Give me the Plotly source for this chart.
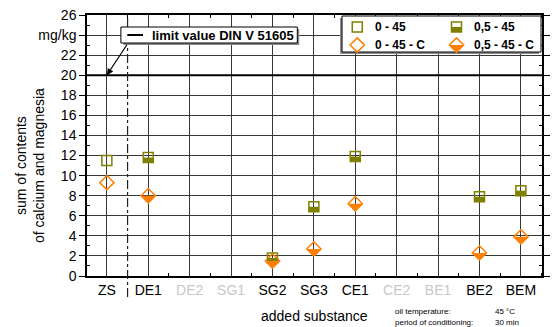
import plotly.graph_objects as go

# ---- data -------------------------------------------------------------
categories = ["ZS", "DE1", "DE2", "SG1", "SG2", "SG3", "CE1", "CE2", "BE1", "BE2", "BEM"]
untested = ["DE2", "SG1", "CE2", "BE1"]

s_0_45_cats = ["ZS"]
s_0_45_vals = [11.5]

s_05_45_cats = ["DE1", "SG2", "SG3", "CE1", "BE2", "BEM"]
s_05_45_vals = [11.8, 1.8, 6.9, 11.9, 7.9, 8.5]

s_0_45_c_cats = ["ZS"]
s_0_45_c_vals = [9.3]

s_05_45_c_cats = ["DE1", "SG2", "SG3", "CE1", "BE2", "BEM"]
s_05_45_c_vals = [8.0, 1.5, 2.7, 7.2, 2.3, 3.9]

limit_value = 20
y_ticks = list(range(0, 27, 2))
y_ticktext = [str(v) if v != 24 else "mg/kg" for v in y_ticks]

# ---- styling ----------------------------------------------------------
OLIVE = "#808000"
ORANGE = "#ff7f00"
GRID = "#383838"
FONT = "Liberation Sans, Arial, sans-serif"
W, H = 552, 327
ML, MR, MT, MB = 87, 2, 15, 51
PW, PH = W - ML - MR, H - MT - MB

SQ = 10          # square marker size (px)
DM = 11          # diamond marker size (px)
RS = SQ / 2
RD = DM / 2 * 1.3


def px(x):
    return (x - ML) / PW


def py(y):
    return (H - MB - y) / PH


idx = {c: i for i, c in enumerate(categories)}

fig = go.Figure()

fig.add_trace(go.Scatter(
    x=[idx[c] for c in s_0_45_cats], y=s_0_45_vals, mode="markers", name="0 - 45",
    marker=dict(symbol="square-open", size=SQ, color=OLIVE, line=dict(width=1.5, color=OLIVE)),
    showlegend=False))
fig.add_trace(go.Scatter(
    x=[idx[c] for c in s_05_45_cats], y=s_05_45_vals, mode="markers", name="0,5 - 45",
    marker=dict(symbol="square-open", size=SQ, color=OLIVE, line=dict(width=1.5, color=OLIVE)),
    showlegend=False))
fig.add_trace(go.Scatter(
    x=[idx[c] for c in s_0_45_c_cats], y=s_0_45_c_vals, mode="markers", name="0 - 45 - C",
    marker=dict(symbol="diamond-open", size=DM, color=ORANGE, line=dict(width=1.5, color=ORANGE)),
    showlegend=False))
fig.add_trace(go.Scatter(
    x=[idx[c] for c in s_05_45_c_cats], y=s_05_45_c_vals, mode="markers", name="0,5 - 45 - C",
    marker=dict(symbol="diamond-open", size=DM, color=ORANGE, line=dict(width=1.5, color=ORANGE)),
    showlegend=False))

shapes = []

# lower-half fills for the half-filled symbols (pixel-sized, anchored on data)
half_square = f"M {-RS},0 L {RS},0 L {RS},{-RS} L {-RS},{-RS} Z"
half_diamond = f"M {-RD},0 L {RD},0 L 0,{-RD} Z"
for c, v in zip(s_05_45_cats, s_05_45_vals):
    shapes.append(dict(type="path", xref="x", yref="y", xsizemode="pixel", ysizemode="pixel",
                       xanchor=idx[c], yanchor=v, path=half_square,
                       fillcolor=OLIVE, line=dict(width=0), layer="above"))
for c, v in zip(s_05_45_c_cats, s_05_45_c_vals):
    shapes.append(dict(type="path", xref="x", yref="y", xsizemode="pixel", ysizemode="pixel",
                       xanchor=idx[c], yanchor=v, path=half_diamond,
                       fillcolor=ORANGE, line=dict(width=0), layer="above"))

# limit line
shapes.append(dict(type="line", xref="paper", yref="y", x0=0, x1=1, y0=limit_value, y1=limit_value,
                   line=dict(color="black", width=2), layer="above"))

# separator between reference and additives
shapes.append(dict(type="line", xref="x", yref="paper", x0=0.5, x1=0.5, y0=py(297), y1=1,
                   line=dict(color="#202020", width=1.2, dash="dashdot"), layer="above"))

# box for the limit label
shapes.append(dict(type="rect", xref="paper", yref="paper",
                   x0=px(124), x1=px(303), y0=py(45), y1=py(29),
                   fillcolor="#8c8c8c", line=dict(width=0), layer="above"))
shapes.append(dict(type="rect", xref="paper", yref="paper",
                   x0=px(121.5), x1=px(301), y0=py(43), y1=py(27),
                   fillcolor="white", line=dict(color="black", width=1), layer="above"))
shapes.append(dict(type="line", xref="paper", yref="paper",
                   x0=px(128), x1=px(144), y0=py(35), y1=py(35),
                   line=dict(color="black", width=2), layer="above"))

# legend box
shapes.append(dict(type="rect", xref="paper", yref="paper",
                   x0=px(344.5), x1=px(547), y0=py(54), y1=py(18),
                   fillcolor="#8c8c8c", line=dict(width=0), layer="above"))
shapes.append(dict(type="rect", xref="paper", yref="paper",
                   x0=px(346.5), x1=px(549), y0=py(52), y1=py(16),
                   fillcolor="white", line=dict(color="black", width=1), layer="above"))

full_square = f"M {-RS},{-RS} L {RS},{-RS} L {RS},{RS} L {-RS},{RS} Z"
full_diamond = f"M {-RD},0 L 0,{RD} L {RD},0 L 0,{-RD} Z"
legend_items = [
    ("0 - 45", 362, 27, full_square, OLIVE, None),
    ("0,5 - 45", 463, 27, full_square, OLIVE, half_square),
    ("0 - 45 - C", 362, 45, full_diamond, ORANGE, None),
    ("0,5 - 45 - C", 463, 45, full_diamond, ORANGE, half_diamond),
]
annotations = []
for label, lx, ly, outline, col, half in legend_items:
    if half:
        shapes.append(dict(type="path", xref="paper", yref="paper", xsizemode="pixel",
                           ysizemode="pixel", xanchor=px(lx), yanchor=py(ly), path=half,
                           fillcolor=col, line=dict(width=0), layer="above"))
    shapes.append(dict(type="path", xref="paper", yref="paper", xsizemode="pixel",
                       ysizemode="pixel", xanchor=px(lx), yanchor=py(ly), path=outline,
                       fillcolor="rgba(0,0,0,0)", line=dict(color=col, width=1.5), layer="above"))
    annotations.append(dict(text=f"<b>{label}</b>", xref="paper", yref="paper",
                            x=px(lx + 16), y=py(ly), xanchor="left", yanchor="middle",
                            showarrow=False, font=dict(size=12, color="black", family=FONT)))

annotations += [
    dict(text="<b>limit value DIN V 51605</b>", xref="paper", yref="paper",
         x=px(151), y=py(35), xanchor="left", yanchor="middle", showarrow=False,
         font=dict(size=13, color="black", family=FONT)),
    dict(text="", x=idx["ZS"], y=limit_value, xref="x", yref="y",
         ax=21, ay=-32, showarrow=True, arrowhead=2, arrowsize=1.1, arrowwidth=1.2,
         arrowcolor="black", standoff=0),
    dict(text="sum of contents<br>of calcium and magnesia", xref="paper", yref="paper",
         x=px(29), y=py(166), xanchor="center", yanchor="middle", textangle=-90,
         showarrow=False, font=dict(size=14, color="black", family=FONT)),
    dict(text="added substance", xref="paper", yref="paper",
         x=px(318), y=py(316), xanchor="center", yanchor="middle", showarrow=False,
         font=dict(size=14, color="black", family=FONT)),
    dict(text="oil temperature:", xref="paper", yref="paper", x=px(398), y=py(311),
         xanchor="left", yanchor="middle", showarrow=False,
         font=dict(size=8, color="black", family=FONT)),
    dict(text="45 °C", xref="paper", yref="paper", x=px(500), y=py(311),
         xanchor="left", yanchor="middle", showarrow=False,
         font=dict(size=8, color="black", family=FONT)),
    dict(text="period of conditioning:", xref="paper", yref="paper", x=px(398), y=py(322),
         xanchor="left", yanchor="middle", showarrow=False,
         font=dict(size=8, color="black", family=FONT)),
    dict(text="30 min", xref="paper", yref="paper", x=px(500), y=py(322),
         xanchor="left", yanchor="middle", showarrow=False,
         font=dict(size=8, color="black", family=FONT)),
]

x_ticktext = [f'<span style="color:#c8c8c8">{c}</span>' if c in untested else c for c in categories]
x_minor = [i + 0.5 for i in range(-1, len(categories))]

fig.update_layout(
    width=W, height=H,
    margin=dict(l=ML, r=MR, t=MT, b=MB),
    paper_bgcolor="white", plot_bgcolor="white",
    font=dict(family=FONT, size=14, color="black"),
    showlegend=False,
    xaxis=dict(
        range=[-0.48, len(categories) - 0.49],
        tickmode="array", tickvals=list(range(len(categories))), ticktext=x_ticktext,
        ticks="", showgrid=True, gridcolor=GRID, gridwidth=1,
        showline=True, linecolor="black", linewidth=1.5, mirror="ticks", zeroline=False,
        tickfont=dict(size=14, family=FONT),
        minor=dict(tickmode="array", tickvals=x_minor, ticks="inside", ticklen=3,
                   tickcolor="black", showgrid=False),
    ),
    yaxis=dict(
        range=[0, 26],
        tickmode="array", tickvals=y_ticks, ticktext=y_ticktext,
        ticks="outside", ticklen=6, tickcolor="black", tickwidth=1,
        showgrid=True, gridcolor=GRID, gridwidth=1,
        showline=True, linecolor="black", linewidth=1.5, mirror="ticks", zeroline=False,
        tickfont=dict(size=14, family=FONT),
        minor=dict(tickmode="array", tickvals=list(range(1, 26, 2)), ticks="inside",
                   ticklen=3, tickcolor="black", showgrid=False),
    ),
    shapes=shapes,
    annotations=annotations,
)

fig.write_html("out.html")
